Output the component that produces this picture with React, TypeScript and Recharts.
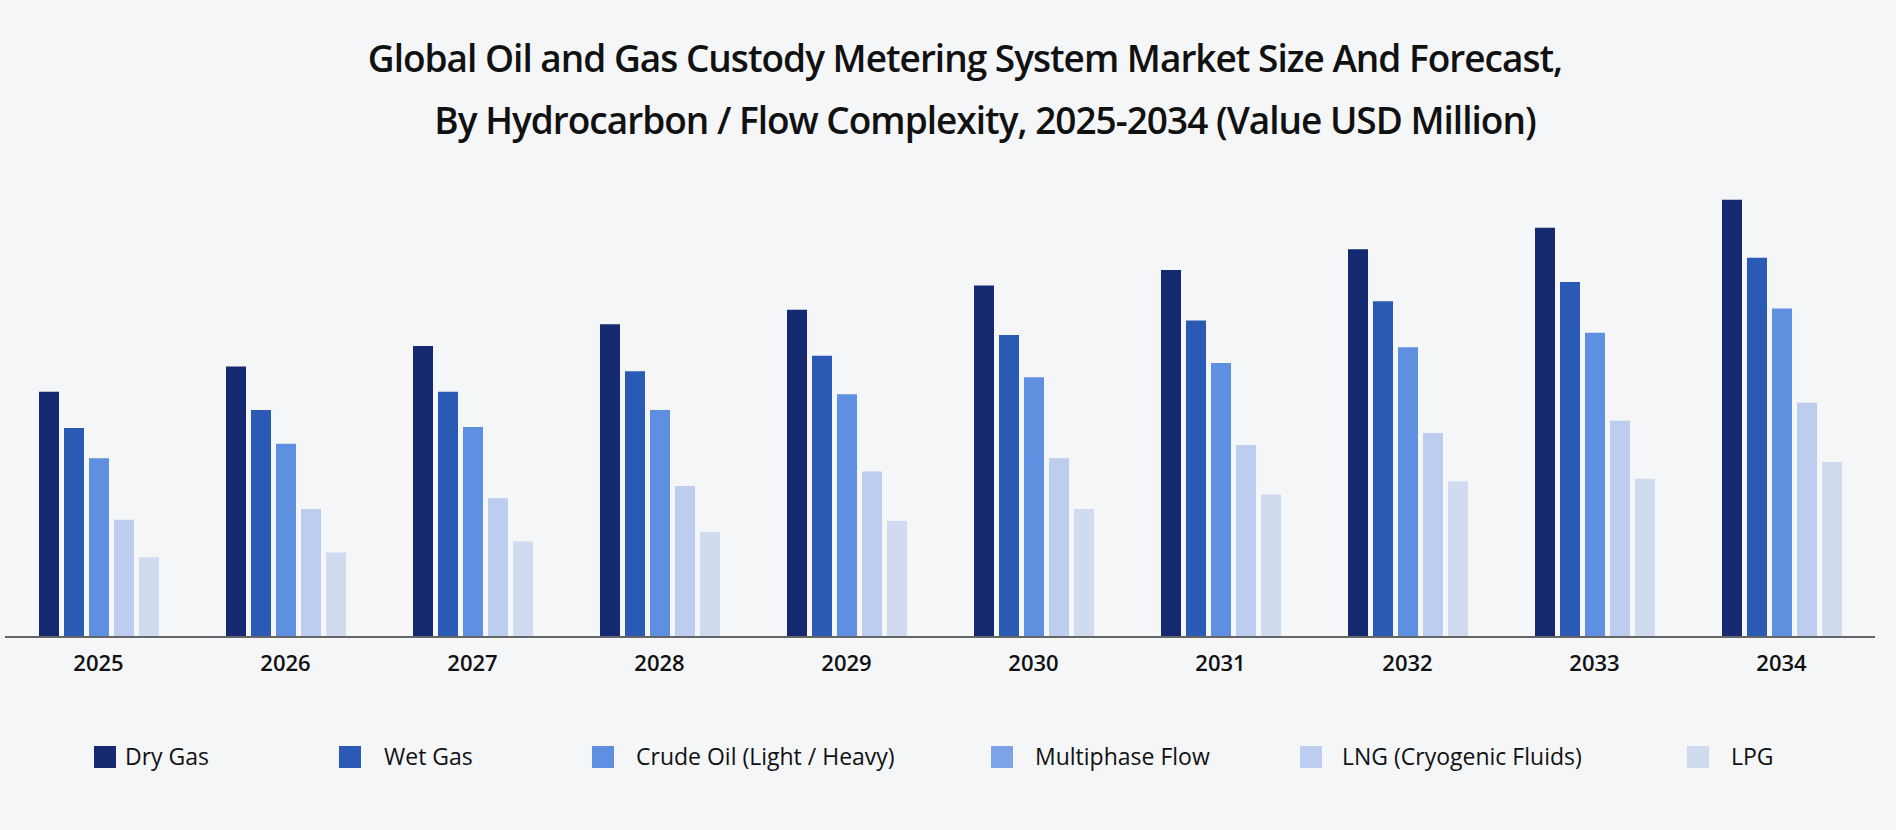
import { Bar, BarChart, XAxis, YAxis } from "recharts";

const years = ["2025", "2026", "2027", "2028", "2029", "2030", "2031", "2032", "2033", "2034"];
const dryGas = [203, 224, 241, 259, 271, 291, 304, 321, 339, 362];
const wetGas = [173, 188, 203, 220, 233, 250, 262, 278, 294, 314];
const crudeOil = [148, 160, 174, 188, 201, 215, 227, 240, 252, 272];
const lng = [97, 106, 115, 125, 137, 148, 159, 169, 179, 194];
const lpg = [66, 70, 79, 87, 96, 106, 118, 129, 131, 145];

const seriesDefs = [
  { key: "dry", name: "Dry Gas", color: "#14296f", values: dryGas },
  { key: "wet", name: "Wet Gas", color: "#2a5ab3", values: wetGas },
  { key: "crude", name: "Crude Oil (Light / Heavy)", color: "#5f8fe0", values: crudeOil },
  { key: "lng", name: "LNG (Cryogenic Fluids)", color: "#bccdef", values: lng },
  { key: "lpg", name: "LPG", color: "#d1dbef", values: lpg },
];

const legendItems = [
  { name: "Dry Gas", color: "#14296f", sq: 94, tx: 125 },
  { name: "Wet Gas", color: "#2a5ab3", sq: 339, tx: 384 },
  { name: "Crude Oil (Light / Heavy)", color: "#5f8fe0", sq: 592, tx: 636 },
  { name: "Multiphase Flow", color: "#7ea2e6", sq: 991, tx: 1035 },
  { name: "LNG (Cryogenic Fluids)", color: "#bccdef", sq: 1300, tx: 1342 },
  { name: "LPG", color: "#d1dbef", sq: 1687, tx: 1731 },
];

const data = years.map((y, i) => {
  const row: Record<string, string | number> = { year: y };
  seriesDefs.forEach((s) => (row[s.key] = s.values[i]));
  return row;
});

const font = "'Open Sans', 'Noto Sans', sans-serif";

export default function App() {
  return (
    <div
      style={{
        position: "absolute",
        left: 0,
        top: 0,
        width: 1896,
        height: 830,
        background: "#f5f6f8",
        overflow: "hidden",
        fontFamily: font,
      }}
    >
      <div
        style={{
          position: "absolute",
          top: 27,
          left: 0,
          width: 1930,
          textAlign: "center",
          fontSize: 37,
          fontWeight: 600,
          lineHeight: "62px",
          color: "#111",
          letterSpacing: -1,
        }}
      >
        Global Oil and Gas Custody Metering System Market Size And Forecast,
        <br />
        <span style={{ paddingLeft: 40 }}>
          By Hydrocarbon / Flow Complexity, 2025-2034 (Value USD Million)
        </span>
      </div>
      <div style={{ position: "absolute", left: 5, top: 160 }}>
        <BarChart
          width={1870}
          height={530}
          data={data}
          margin={{ top: 0, right: 0, bottom: 0, left: 0 }}
          barSize={20}
          barGap={5}
        >
          <XAxis
            dataKey="year"
            tickLine={false}
            axisLine={{ stroke: "#666", strokeWidth: 2 }}
            tick={{ fill: "#111", fontSize: 22, fontWeight: 600, fontFamily: font }}
            tickMargin={12}
            height={53}
          />
          <YAxis hide domain={[0, 395]} />
          {seriesDefs.map((s) => (
            <Bar key={s.key} dataKey={s.key} name={s.name} fill={s.color} isAnimationActive={false} />
          ))}
        </BarChart>
      </div>
      {legendItems.map((l) => (
        <div key={l.name}>
          <div
            style={{
              position: "absolute",
              left: l.sq,
              top: 746,
              width: 22,
              height: 22,
              background: l.color,
            }}
          />
          <div
            style={{
              position: "absolute",
              left: l.tx,
              top: 741,
              fontSize: 23,
              color: "#111",
              lineHeight: "30px",
              whiteSpace: "nowrap",
            }}
          >
            {l.name}
          </div>
        </div>
      ))}
    </div>
  );
}
